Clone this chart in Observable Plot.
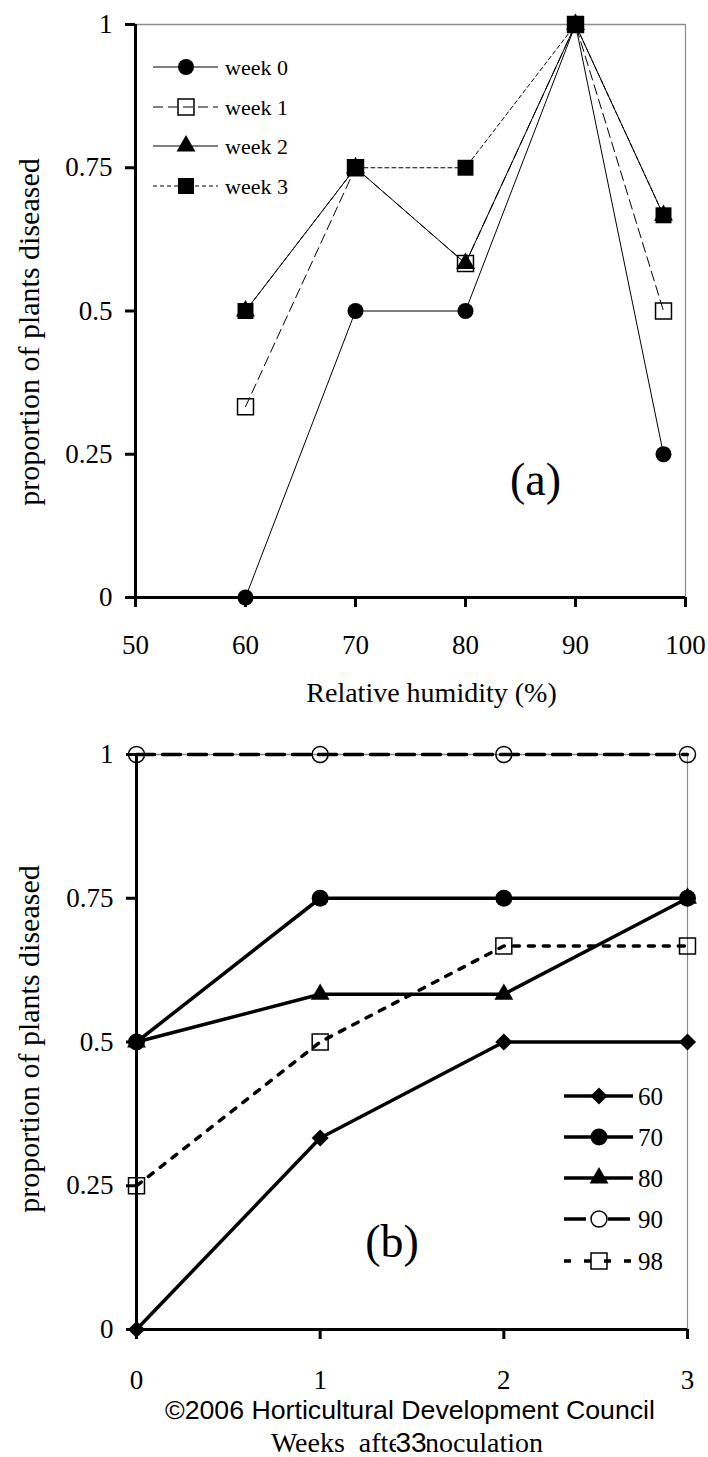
<!DOCTYPE html>
<html><head><meta charset="utf-8">
<script src="https://cdn.jsdelivr.net/npm/d3@7"></script>
<script src="https://cdn.jsdelivr.net/npm/@observablehq/plot@0.6"></script>
<style>
body{margin:0;background:#fff;}
#wrap{position:relative;width:708px;height:1457px;background:#fff;}
#wrap > svg{display:block}
.ov{position:absolute;left:0;top:0;pointer-events:none}
</style></head><body><div id="wrap"></div>
<script>
// ---- data ----
const humidity = [60, 70, 80, 90, 98];
const humidityNames = ["60", "70", "80", "90", "98"];
const weeks = [0, 1, 2, 3];
const weekNames = ["week 0", "week 1", "week 2", "week 3"];
// proportion of plants diseased for each RH level, weeks 0..3
const rh60 = [0, 0.333, 0.5, 0.5];
const rh70 = [0.5, 0.75, 0.75, 0.75];
const rh80 = [0.5, 0.583, 0.583, 0.75];
const rh90 = [1, 1, 1, 1];
const rh98 = [0.25, 0.5, 0.667, 0.667];
const yTicks = [0, 0.25, 0.5, 0.75, 1];
const xTicksA = [50, 60, 70, 80, 90, 100];
const xTicksB = [0, 1, 2, 3];

const rhSeries = [rh60, rh70, rh80, rh90, rh98];
const rows = [];
humidity.forEach((h, i) => weeks.forEach((w, j) => rows.push({rh: h, week: w, p: rhSeries[i][j]})));

// ---- styles ----
const weekStyle = [
  {dash: null, symbol: "circle", fill: "black", r: 8},
  {dash: "10,5", symbol: "square", fill: "none", r: 9},
  {dash: null, symbol: "triangle", fill: "black", r: 7},
  {dash: "4,3", symbol: "square", fill: "black", r: 9}
];
const rhStyle = [
  {dash: null, symbol: "diamond2", fill: "black", r: 7.7, lg: null},
  {dash: null, symbol: "circle", fill: "black", r: 8.5, lg: null},
  {dash: null, symbol: "triangle", fill: "black", r: 7, lg: null},
  {dash: "18,8", symbol: "circle", fill: "none", r: 8, lg: "22,22"},
  {dash: "6,9", symbol: "square", fill: "none", r: 9, lg: "7,13"}
];
const serif = "'Liberation Serif','Times New Roman',serif";
const frameGray = "#8c8c8c";
const tickFont = 27;

// ---- panel (a) ----
const marksA = [
  Plot.ruleY([1], {stroke: frameGray, strokeWidth: 1.5}),
  Plot.ruleX([100], {stroke: frameGray, strokeWidth: 1.2}),
  Plot.axisY({ticks: yTicks, tickSize: 10, tickPadding: 13, strokeWidth: 3, fontSize: tickFont, tickFormat: d => String(d), label: null}),
  Plot.axisX({ticks: xTicksA, tickSize: 10, tickPadding: 27, strokeWidth: 3, fontSize: tickFont, tickFormat: d => String(d), label: null}),
  Plot.ruleX([50], {strokeWidth: 3}),
  Plot.ruleY([0], {strokeWidth: 3})
];
weeks.forEach((w, j) => {
  const s = weekStyle[j];
  const data = rows.filter(d => d.week === w);
  marksA.push(Plot.line(data, {x: "rh", y: "p", stroke: "black", strokeWidth: 1, strokeDasharray: s.dash || undefined}));
  marksA.push(Plot.dot(data, {x: "rh", y: "p", symbol: () => s.symbol, r: s.r, fill: s.fill, stroke: "black", strokeWidth: s.fill === "none" ? 1.5 : 0}));
});
marksA.push(
  Plot.text(["Relative humidity (%)"], {text: d => d, frameAnchor: "bottom", textAnchor: "middle", lineAnchor: "middle", dx: 21, dy: 96, fontSize: 28}),
  Plot.text(["proportion of plants diseased"], {text: d => d, frameAnchor: "left", textAnchor: "middle", lineAnchor: "middle", rotate: -90, dx: -106, dy: 21, fontSize: 30}),
  Plot.text(["(a)"], {text: d => d, frameAnchor: "bottom", textAnchor: "middle", lineAnchor: "middle", dx: 125, dy: -117, fontSize: 46})
);
const plotA = Plot.plot({
  width: 708, height: 720,
  marginLeft: 135, marginRight: 23, marginTop: 24, marginBottom: 123,
  x: {domain: [50, 100]}, y: {domain: [0, 1]},
  style: {fontFamily: serif, background: "white", color: "black", overflow: "visible"},
  marks: marksA
});

// ---- panel (b) ----
const marksB = [
  Plot.ruleY([1], {stroke: frameGray, strokeWidth: 1.5}),
  Plot.ruleX([3], {stroke: frameGray, strokeWidth: 1.2}),
  Plot.axisY({ticks: yTicks, tickSize: 10, tickPadding: 13, strokeWidth: 3, fontSize: tickFont, tickFormat: d => String(d), label: null}),
  Plot.axisX({ticks: xTicksB, tickSize: 10, tickPadding: 30, strokeWidth: 3, fontSize: tickFont, tickFormat: d => String(d), label: null}),
  Plot.ruleX([0], {strokeWidth: 3}),
  Plot.ruleY([0], {strokeWidth: 3})
];
humidity.forEach((h, i) => {
  const s = rhStyle[i];
  const data = rows.filter(d => d.rh === h);
  marksB.push(Plot.line(data, {x: "week", y: "p", stroke: "black", strokeWidth: 3.5, strokeDasharray: s.dash || undefined}));
  marksB.push(Plot.dot(data, {x: "week", y: "p", symbol: () => s.symbol, r: s.r, fill: s.fill, stroke: "black", strokeWidth: s.fill === "none" ? 1.5 : 0}));
});
marksB.push(
  Plot.text(["Weeks\u00a0 after inoculation"], {text: d => d, frameAnchor: "bottom", textAnchor: "middle", lineAnchor: "middle", dx: -5, dy: 114, fontSize: 28}),
  Plot.text(["proportion of plants diseased"], {text: d => d, frameAnchor: "left", textAnchor: "middle", lineAnchor: "middle", rotate: -90, dx: -107, dy: -3, fontSize: 30}),
  Plot.text(["(b)"], {text: d => d, frameAnchor: "bottom", textAnchor: "middle", lineAnchor: "middle", dx: -20, dy: -87, fontSize: 46})
);
const plotB = Plot.plot({
  width: 708, height: 737,
  marginLeft: 136, marginRight: 21, marginTop: 34, marginBottom: 128,
  x: {domain: [0, 3]}, y: {domain: [0, 1]},
  style: {fontFamily: serif, background: "white", color: "black", overflow: "visible"},
  marks: marksB
});

const wrap = document.getElementById("wrap");
wrap.appendChild(plotA);
wrap.appendChild(plotB);

// ---- legends and captions (overlay) ----
const ov = d3.select(wrap).append("svg").attr("class", "ov").attr("width", 708).attr("height", 1457)
  .style("font-family", serif);
const symbolTypes = {circle: d3.symbolCircle, square: d3.symbolSquare, triangle: d3.symbolTriangle, diamond2: d3.symbolDiamond2};
function legendRow(g, y, x1, x2, xm, xt, s, dash, lw, label, fs) {
  g.append("line").attr("x1", x1).attr("x2", x2).attr("y1", y).attr("y2", y)
    .attr("stroke", "black").attr("stroke-width", lw).attr("stroke-dasharray", dash || null);
  g.append("path").attr("transform", `translate(${xm},${y})`)
    .attr("d", d3.symbol(symbolTypes[s.symbol], Math.PI * s.r * s.r)())
    .attr("fill", s.fill).attr("stroke", "black").attr("stroke-width", s.fill === "none" ? 1.5 : 0);
  g.append("text").attr("x", xt).attr("y", y).attr("dy", "0.35em").attr("font-size", fs).text(label);
}
const legA = ov.append("g");
const legAy = [67, 107, 146, 186];
weekNames.forEach((n, j) => legendRow(legA, legAy[j], 153, 218, 186, 225, weekStyle[j], weekStyle[j].dash, 1, n, 22));
const legB = ov.append("g");
const legBy = [1096, 1137, 1178, 1219, 1261];
humidityNames.forEach((n, i) => legendRow(legB, legBy[i], 564, 633, 599, 638, rhStyle[i], rhStyle[i].lg, 3.5, n, 25));

ov.append("text").attr("x", 410).attr("y", 1410).attr("dy", "0.35em").attr("text-anchor", "middle")
  .attr("font-family", "'Liberation Sans',Arial,sans-serif").attr("font-size", 25)
  .attr("textLength", 490).attr("lengthAdjust", "spacingAndGlyphs")
  .text("\u00a92006 Horticultural Development Council");
ov.append("rect").attr("x", 396).attr("y", 1429).attr("width", 31).attr("height", 26).attr("fill", "white");
ov.append("text").attr("x", 411).attr("y", 1442).attr("dy", "0.36em").attr("text-anchor", "middle")
  .attr("font-family", "'Liberation Sans',Arial,sans-serif").attr("font-size", 28).text("33");
</script></body></html>
